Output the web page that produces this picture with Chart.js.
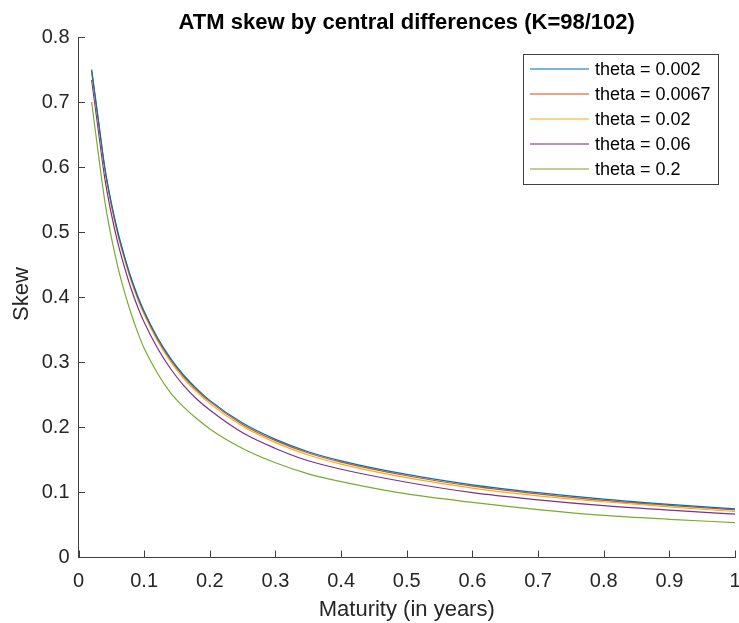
<!DOCTYPE html>
<html>
<head>
<meta charset="utf-8">
<script src="https://cdn.jsdelivr.net/npm/chart.js@4/dist/chart.umd.min.js"></script>
<style>
html,body{margin:0;padding:0;background:#fff;}
#wrap{position:relative;width:739px;height:623px;}
</style>
</head>
<body>
<div id="wrap"><canvas id="c" width="739" height="623"></canvas></div>
<script>
const maturities = [0.02,0.03,0.04,0.05,0.06,0.07,0.08,0.09,0.10,0.12,0.14,0.16,0.18,0.20,0.25,0.30,0.35,0.40,0.50,0.60,0.70,0.80,0.90,1.00];
const skew_0002  = [0.750,0.675,0.600,0.545,0.500,0.463,0.430,0.402,0.378,0.338,0.306,0.280,0.259,0.241,0.206,0.181,0.162,0.148,0.127,0.111,0.099,0.089,0.081,0.074];
const skew_00067 = [0.748,0.673,0.598,0.543,0.498,0.461,0.428,0.400,0.376,0.336,0.304,0.278,0.257,0.239,0.204,0.179,0.160,0.146,0.125,0.109,0.097,0.087,0.0795,0.0725];
const skew_002   = [0.745,0.670,0.595,0.540,0.495,0.458,0.425,0.397,0.373,0.333,0.301,0.275,0.254,0.236,0.201,0.176,0.157,0.143,0.122,0.106,0.094,0.085,0.077,0.070];
const skew_006   = [0.734,0.658,0.583,0.528,0.483,0.446,0.413,0.385,0.361,0.322,0.290,0.264,0.243,0.226,0.191,0.167,0.148,0.135,0.115,0.099,0.088,0.079,0.072,0.066];
const skew_02    = [0.700,0.622,0.548,0.492,0.446,0.408,0.375,0.346,0.321,0.283,0.253,0.231,0.213,0.197,0.167,0.145,0.128,0.116,0.097,0.084,0.073,0.064,0.058,0.053];
const seriesLabels = ["theta = 0.002","theta = 0.0067","theta = 0.02","theta = 0.06","theta = 0.2"];
const seriesColors = ["#0072BD","#D95319","#EDB120","#7E2F8E","#77AC30"];
const xTicks = [0,0.1,0.2,0.3,0.4,0.5,0.6,0.7,0.8,0.9,1];
const yTicks = [0,0.1,0.2,0.3,0.4,0.5,0.6,0.7,0.8];
const titleText = "ATM skew by central differences (K=98/102)";
const xLabel = "Maturity (in years)";
const yLabel = "Skew";

const allSeries = [skew_0002, skew_00067, skew_002, skew_006, skew_02];
const FONT = "'Liberation Sans', Arial, Helvetica, sans-serif";
const TXT = "#262626";
const AX = "#404040";

const datasets = allSeries.map((vals,i)=>({
  label: seriesLabels[i],
  data: vals.map((v,j)=>({x:maturities[j], y:v})),
  borderColor: seriesColors[i],
  backgroundColor: seriesColors[i],
  borderWidth: 1.2,
  pointRadius: 0,
  fill: false,
  cubicInterpolationMode: 'monotone'
}));

const decor = {
  id: 'decor',
  afterDraw(chart){
    const ctx = chart.ctx;
    const a = chart.chartArea;
    const xs = chart.scales.x, ys = chart.scales.y;
    ctx.save();
    // inner ticks
    ctx.strokeStyle = AX; ctx.lineWidth = 1;
    ctx.beginPath();
    xTicks.forEach(t=>{
      const px = Math.round(xs.getPixelForValue(t))+0.5;
      ctx.moveTo(px, a.bottom); ctx.lineTo(px, a.bottom-6.5);
    });
    yTicks.forEach(t=>{
      const py = Math.round(ys.getPixelForValue(t))+0.5;
      ctx.moveTo(a.left, py); ctx.lineTo(a.left+6.5, py);
    });
    ctx.stroke();
    // title
    ctx.fillStyle = "#000";
    ctx.font = "bold 22px " + FONT;
    ctx.textAlign = 'center'; ctx.textBaseline = 'alphabetic';
    ctx.fillText(titleText, (a.left+a.right)/2, 29);
    // axis labels
    ctx.fillStyle = TXT;
    ctx.font = "22px " + FONT;
    ctx.fillText(xLabel, (a.left+a.right)/2, 616);
    ctx.save();
    ctx.translate(28, (a.top+a.bottom)/2 - 3);
    ctx.rotate(-Math.PI/2);
    ctx.fillText(yLabel, 0, 0);
    ctx.restore();
    // legend
    const bx = Math.round(a.right-212), by = Math.round(a.top+17), bw = 195, bh = 130;
    ctx.fillStyle = "#fff";
    ctx.fillRect(bx, by, bw, bh);
    ctx.strokeStyle = "#404040"; ctx.lineWidth = 1;
    ctx.strokeRect(bx+0.5, by+0.5, bw, bh);
    ctx.font = "18px " + FONT;
    ctx.textAlign = 'left'; ctx.textBaseline = 'middle';
    chart.data.datasets.forEach((d,i)=>{
      const yy = by + 15 + i*25;
      ctx.strokeStyle = d.borderColor; ctx.lineWidth = 1.4;
      ctx.globalAlpha = 0.7;
      ctx.beginPath(); ctx.moveTo(bx+7, yy); ctx.lineTo(bx+66, yy); ctx.stroke();
      ctx.globalAlpha = 1;
      ctx.fillStyle = "#000";
      ctx.fillText(d.label, bx+72, yy+1);
    });
    ctx.restore();
  }
};

new Chart(document.getElementById('c'), {
  type: 'line',
  data: { datasets },
  plugins: [decor],
  options: {
    responsive: false,
    animation: false,
    layout: { padding: { left: 0, right: 4, top: 37, bottom: 0 } },
    plugins: { legend: { display: false }, title: { display: false }, tooltip: { enabled: false } },
    scales: {
      x: {
        type: 'linear', min: 0, max: 1,
        afterBuildTicks: s => { s.ticks = xTicks.map(v=>({value:v})); },
        afterFit: s => { s.height = 66; s.paddingLeft = 0; s.paddingRight = 0; },
        grid: { display: false, drawTicks: false },
        border: { display: true, color: AX, width: 1 },
        ticks: { color: TXT, font: { family: FONT, size: 20 }, padding: 12, maxRotation: 0,
          callback: v => String(Number(v.toFixed(1))) }
      },
      y: {
        type: 'linear', min: 0, max: 0.8,
        afterBuildTicks: s => { s.ticks = yTicks.map(v=>({value:v})); },
        afterFit: s => { s.width = 78.5; s.paddingTop = 0; s.paddingBottom = 0; },
        grid: { display: false, drawTicks: false },
        border: { display: true, color: AX, width: 1 },
        ticks: { color: TXT, font: { family: FONT, size: 20 }, padding: 9,
          callback: v => String(Number(v.toFixed(1))) }
      }
    }
  }
});
</script>
</body>
</html>
